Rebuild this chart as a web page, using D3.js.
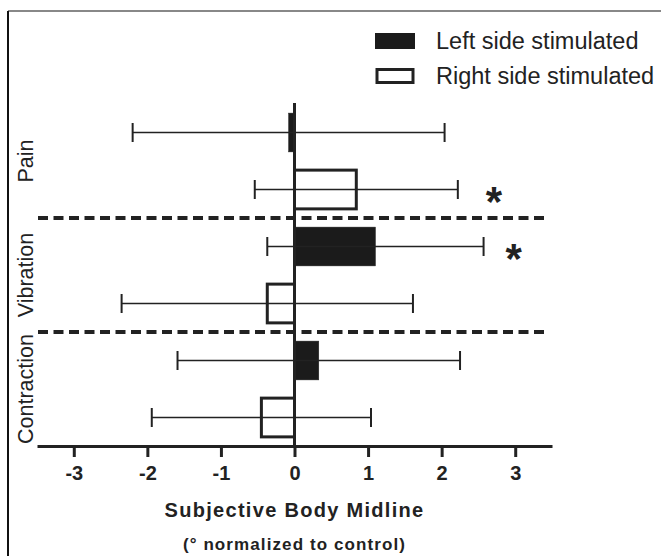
<!DOCTYPE html>
<html>
<head>
<meta charset="utf-8">
<script src="https://cdn.jsdelivr.net/npm/d3@7"></script>
<style>
  html, body { margin: 0; padding: 0; background: #fff; }
  svg { display: block; font-family: "Liberation Sans", Arial, Helvetica, sans-serif; }
</style>
</head>
<body>
<div id="chart"></div>
<script>
// stimulus groups, top to bottom
var categories = ["Pain", "Vibration", "Contraction"];
var sides = ["left", "right"];
var sideLabels = ["Left side stimulated", "Right side stimulated"];

// mean shift of subjective body midline (deg, normalized to control) and SD
var leftMean  = [-0.08, 1.10, 0.33];
var leftSD    = [2.12, 1.47, 1.92];
var rightMean = [0.84, -0.37, -0.45];
var rightSD   = [1.38, 1.98, 1.49];

// significance markers (* placed at this x value)
var sigBars = ["Pain-right", "Vibration-left"];
var sigX    = [2.71, 2.98];

var xTicks = [-3, -2, -1, 0, 1, 2, 3];

var width = 661, height = 556;
var ink = "#222";

// build rows from the arrays
var rows = [];
categories.forEach(function(c, i) {
  rows.push({ id: c + "-left",  cat: c, side: "left",  mean: leftMean[i],  sd: leftSD[i] });
  rows.push({ id: c + "-right", cat: c, side: "right", mean: rightMean[i], sd: rightSD[i] });
});

var svg = d3.select("#chart").append("svg")
    .attr("width", width)
    .attr("height", height);

// outer frame (top + left only)
svg.append("line").attr("x1", 8).attr("x2", width).attr("y1", 11).attr("y2", 11)
    .attr("stroke", "#888").attr("stroke-width", 2);
svg.append("line").attr("x1", 8).attr("x2", 8).attr("y1", 11).attr("y2", height)
    .attr("stroke", "#111").attr("stroke-width", 2);

var x = d3.scaleLinear().domain([-3.5, 3.5]).range([37, 552]);
var y = d3.scaleBand().domain(rows.map(function(d) { return d.id; }))
    .range([104, 446]).paddingInner(0.32).paddingOuter(0.16);
var step = y.step();
var axisY = 446;

// dashed group separators
var sepY = categories.slice(1).map(function(c, i) { return 104 + (i + 1) * 2 * step; });
svg.selectAll(".sep").data(sepY).enter().append("line")
    .attr("class", "sep")
    .attr("x1", 38).attr("x2", 547)
    .attr("y1", function(d) { return d; }).attr("y2", function(d) { return d; })
    .attr("stroke", ink).attr("stroke-width", 4)
    .attr("stroke-dasharray", "10,5.5");

// bars
svg.selectAll(".bar").data(rows).enter().append("rect")
    .attr("class", "bar")
    .attr("x", function(d) { return Math.min(x(0), x(d.mean)); })
    .attr("width", function(d) { return Math.abs(x(d.mean) - x(0)); })
    .attr("y", function(d) { return y(d.id); })
    .attr("height", y.bandwidth())
    .attr("fill", function(d) { return d.side === "left" ? "#1b1b1b" : "none"; })
    .attr("stroke", ink)
    .attr("stroke-width", function(d) { return d.side === "left" ? 0.5 : 3; });

// error bars
var err = svg.selectAll(".err").data(rows).enter().append("g").attr("class", "err");
err.append("line")
    .attr("x1", function(d) { return x(d.mean - d.sd); })
    .attr("x2", function(d) { return x(d.mean + d.sd); })
    .attr("y1", function(d) { return y(d.id) + y.bandwidth() / 2; })
    .attr("y2", function(d) { return y(d.id) + y.bandwidth() / 2; })
    .attr("stroke", ink).attr("stroke-width", 1.6);
[-1, 1].forEach(function(s) {
  err.append("line")
      .attr("x1", function(d) { return x(d.mean + s * d.sd); })
      .attr("x2", function(d) { return x(d.mean + s * d.sd); })
      .attr("y1", function(d) { return y(d.id) + y.bandwidth() / 2 - 9.5; })
      .attr("y2", function(d) { return y(d.id) + y.bandwidth() / 2 + 9.5; })
      .attr("stroke", ink).attr("stroke-width", 2);
});

// significance asterisks
svg.selectAll(".sig").data(sigBars).enter().append("text")
    .attr("class", "sig")
    .attr("x", function(d, i) { return x(sigX[i]); })
    .attr("y", function(d) { return y(d) + y.bandwidth() / 2 + 26; })
    .attr("text-anchor", "middle")
    .attr("font-size", 42).attr("font-weight", "bold")
    .attr("fill", ink)
    .text("*");

// zero line (vertical axis)
svg.append("line").attr("x1", x(0)).attr("x2", x(0)).attr("y1", 103).attr("y2", axisY)
    .attr("stroke", ink).attr("stroke-width", 3);

// x axis
var xAxis = svg.append("g")
    .attr("transform", "translate(0," + axisY + ")")
    .call(d3.axisBottom(x).tickValues(xTicks).tickSize(11).tickPadding(9).tickSizeOuter(0)
      .tickFormat(function(d) { return String(d); }));
xAxis.select(".domain").attr("stroke", ink).attr("stroke-width", 3);
xAxis.selectAll(".tick line").attr("stroke", ink).attr("stroke-width", 3);
xAxis.selectAll(".tick text")
    .attr("fill", ink)
    .attr("font-size", 20).attr("font-weight", "bold")
    .attr("font-family", "'Liberation Sans', Arial, sans-serif");

// category labels
svg.selectAll(".cat").data(categories).enter().append("text")
    .attr("class", "cat")
    .attr("transform", function(d, i) {
      return "translate(33," + (104 + (2 * i + 1) * step) + ") rotate(-90)";
    })
    .attr("text-anchor", "middle")
    .attr("font-size", 21.5)
    .attr("fill", ink)
    .text(function(d) { return d; });

// axis title
svg.append("text")
    .attr("x", x(0)).attr("y", 517)
    .attr("text-anchor", "middle")
    .attr("font-size", 20).attr("font-weight", "bold")
    .attr("letter-spacing", 1.3)
    .attr("fill", ink)
    .text("Subjective Body Midline");
svg.append("text")
    .attr("x", x(0)).attr("y", 550)
    .attr("text-anchor", "middle")
    .attr("font-size", 17).attr("font-weight", "bold")
    .attr("letter-spacing", 1.1)
    .attr("fill", ink)
    .text("(° normalized to control)");

// legend
var legend = svg.selectAll(".legend").data(sides).enter().append("g")
    .attr("class", "legend")
    .attr("transform", function(d, i) { return "translate(375," + (33 + i * 35) + ")"; });
legend.append("rect")
    .attr("x", function(d) { return d === "left" ? 0 : 2; })
    .attr("y", function(d) { return d === "left" ? 0 : 1.5; })
    .attr("width", function(d) { return d === "left" ? 40 : 36; })
    .attr("height", function(d) { return d === "left" ? 16 : 13; })
    .attr("fill", function(d) { return d === "left" ? "#1b1b1b" : "#fff"; })
    .attr("stroke", ink)
    .attr("stroke-width", function(d) { return d === "left" ? 0 : 3; });
legend.append("text")
    .attr("x", 61).attr("y", 16)
    .attr("font-size", 23.5)
    .attr("fill", ink)
    .text(function(d, i) { return sideLabels[i]; });
</script>
</body>
</html>
